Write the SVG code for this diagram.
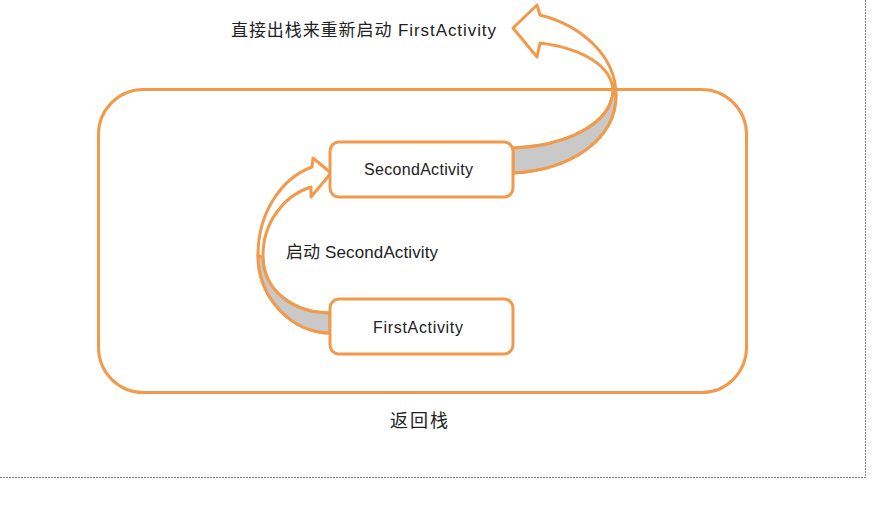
<svg xmlns="http://www.w3.org/2000/svg" width="887" height="505" viewBox="0 0 887 505">
<style>
.o{stroke:#F29A4C;stroke-width:3;stroke-linejoin:round;fill:none}
.w{fill:#fff}
.g{fill:#C9C9C9}
.t{font-family:"Liberation Sans","Noto Sans CJK SC",sans-serif;fill:#222}
.frame{stroke:#808080;stroke-width:1;stroke-dasharray:2 1;fill:none}
</style>
<rect width="887" height="505" fill="#fff"/>
<path class="frame" d="M865.5,0 V477.5 H0"/>
<g id="back-stack">
<rect class="o" x="98.5" y="89.5" width="648" height="303" rx="45"/>
<text class="t" x="390" y="427" font-size="18" textLength="58">返回栈</text>
</g>
<g id="connectors">
<g id="start-second">
<path class="o w" d="M330,333 C292,333 258,298 258,255 C258,212 282,178 312,167 L313,158 L331,173 L311,197 L311,187 C285,195 262,222 263,258 C264,292 295,313 330,313 Z"/>
<path class="o g" d="M330,333 C292,333 258,298 258,255 L263,258 C264,292 295,313 330,313 Z"/>
</g>
<g id="restart-first">
<path class="o w" d="M513,173 C570,170 616,140 616,95 C616,55 580,25 540,15 L537,5 L513,28 L537,57 L540,43 C580,48 613,65 613,92 C610,125 565,146 513,148 Z"/>
<path class="o g" d="M513,173 C570,170 616,140 616,95 L613,92 C610,125 565,146 513,148 Z"/>
</g>
</g>
<g id="second-activity">
<rect class="o w" x="330" y="142" width="183" height="55" rx="9"/>
<text class="t" x="364" y="175" font-size="16" textLength="109">SecondActivity</text>
</g>
<g id="first-activity">
<rect class="o w" x="330" y="299" width="183" height="55" rx="9"/>
<text class="t" x="373" y="333" font-size="16" textLength="90">FirstActivity</text>
</g>
<text class="t" x="286" y="258" font-size="17" textLength="152">启动 SecondActivity</text>
<text class="t" x="231" y="36" font-size="17" textLength="265">直接出栈来重新启动 FirstActivity</text>
</svg>
